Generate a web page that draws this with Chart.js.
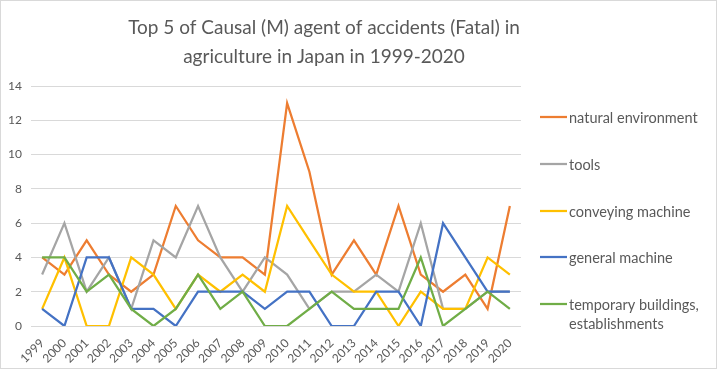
<!DOCTYPE html>
<html>
<head>
<meta charset="utf-8">
<script src="https://cdn.jsdelivr.net/npm/chart.js@4"></script>
<style>
  html, body { margin: 0; padding: 0; background: #fff; }
  #wrap { width: 718px; height: 370px; }
</style>
</head>
<body>
<div id="wrap"><canvas id="accChart" width="718" height="370"></canvas></div>
<script>
const years = ['1999', '2000', '2001', '2002', '2003', '2004', '2005', '2006', '2007', '2008', '2009',
  '2010', '2011', '2012', '2013', '2014', '2015', '2016', '2017', '2018', '2019', '2020'];

const naturalEnv = [4, 3, 5, 3, 2, 3, 7, 5, 4, 4, 3, 13, 9, 3, 5, 3, 7, 3, 2, 3, 1, 7];
const tools      = [3, 6, 2, 4, 1, 5, 4, 7, 4, 2, 4, 3, 1, 2, 2, 3, 2, 6, 1, 1, 2, 2];
const conveying  = [1, 4, 0, 0, 4, 3, 1, 3, 2, 3, 2, 7, 5, 3, 2, 2, 0, 2, 1, 1, 4, 3];
const general    = [1, 0, 4, 4, 1, 1, 0, 2, 2, 2, 1, 2, 2, 0, 0, 2, 2, 0, 6, 4, 2, 2];
const temporary  = [4, 4, 2, 3, 1, 0, 1, 3, 1, 2, 0, 0, 1, 2, 1, 1, 1, 4, 0, 1, 2, 1];

const seriesNames = ['natural environment', 'tools', 'conveying machine', 'general machine',
  ['temporary buildings,', 'establishments']];
const seriesColors = ['#ED7D31', '#A5A5A5', '#FFC000', '#4472C4', '#70AD47'];
const seriesData = [naturalEnv, tools, conveying, general, temporary];

const titleLines = ['Top 5 of Causal (M) agent of accidents (Fatal) in', 'agriculture in Japan in 1999-2020'];
const yMax = 14;
const yStep = 2;

const FONT = 'Lato, "Open Sans", sans-serif';
const TEXT = '#595959';

// title, legend and frame are drawn by hand to follow the original layout
const decorPlugin = {
  id: 'decor',
  afterDraw(chart) {
    const ctx = chart.ctx;
    ctx.save();
    ctx.strokeStyle = '#d9d9d9';
    ctx.lineWidth = 1;
    ctx.strokeRect(0.5, 0.5, 716, 368);

    ctx.fillStyle = TEXT;
    ctx.font = '19px ' + FONT;
    ctx.textAlign = 'center';
    ctx.textBaseline = 'alphabetic';
    ctx.fillText(titleLines[0], 324, 34);
    ctx.fillText(titleLines[1], 324, 63);

    ctx.font = '14.5px ' + FONT;
    ctx.textAlign = 'left';
    ctx.textBaseline = 'middle';
    const legendY = [117, 164, 211, 257, 304];
    seriesNames.forEach((name, i) => {
      const y = legendY[i];
      ctx.strokeStyle = seriesColors[i];
      ctx.lineWidth = 2.25;
      ctx.beginPath();
      ctx.moveTo(540, y);
      ctx.lineTo(567, y);
      ctx.stroke();
      const lines = Array.isArray(name) ? name : [name];
      lines.forEach((ln, k) => ctx.fillText(ln, 569, y + 1 + k * 19));
    });
    ctx.restore();
  }
};

new Chart(document.getElementById('accChart'), {
  type: 'line',
  data: {
    labels: years,
    datasets: seriesData.map((d, i) => ({
      label: Array.isArray(seriesNames[i]) ? seriesNames[i].join(' ') : seriesNames[i],
      data: d,
      borderColor: seriesColors[i],
      backgroundColor: seriesColors[i],
      borderWidth: 2.25,
      pointRadius: 0,
      tension: 0,
      order: seriesData.length - i,
    }))
  },
  options: {
    responsive: false,
    animation: false,
    layout: { padding: { top: 86, right: 197, left: 0, bottom: 0 } },
    plugins: {
      legend: { display: false },
      title: { display: false },
      tooltip: { enabled: false }
    },
    scales: {
      x: {
        offset: true,
        grid: { display: false },
        border: { display: false },
        afterFit: (s) => { s.height = 44; },
        ticks: {
          color: TEXT,
          font: { family: FONT, size: 12 },
          minRotation: 45,
          maxRotation: 45,
          autoSkip: false,
          padding: 2
        }
      },
      y: {
        min: 0,
        max: yMax,
        grid: { color: '#d9d9d9', lineWidth: 1, drawTicks: false },
        border: { display: false },
        afterFit: (s) => { s.width = 31; },
        ticks: {
          stepSize: yStep,
          color: TEXT,
          font: { family: FONT, size: 12 },
          padding: 9
        }
      }
    }
  },
  plugins: [decorPlugin]
});
</script>
</body>
</html>
